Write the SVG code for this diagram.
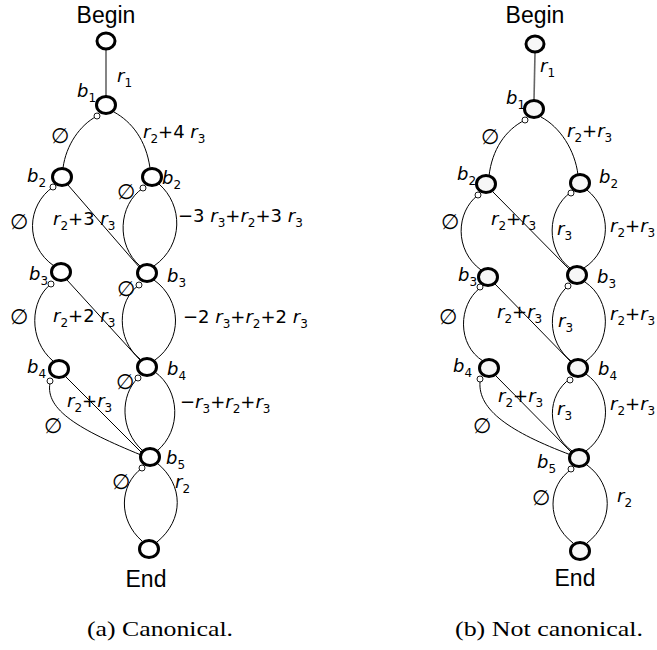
<svg xmlns="http://www.w3.org/2000/svg" width="657" height="650" viewBox="0 0 657 650">
<style>
.bg{fill:#fff}
.node{fill:#fff;stroke:#000;stroke-width:3}
.nodeR{fill:#f7f7f7;stroke:#000;stroke-width:3}
.port{fill:#fff;stroke:#000;stroke-width:0.9}
.e{fill:none;stroke:#000;stroke-width:1}
.eg{fill:none;stroke:#666;stroke-width:1.6}
.lbl{font-family:"DejaVu Sans",sans-serif;font-size:18px;fill:#000}
.i{font-style:italic}
.s{font-size:12px}
.es{font-family:"DejaVu Sans",sans-serif;font-size:21px;font-style:italic;fill:#000}
.term{font-family:"Liberation Sans",Arial,sans-serif;font-size:23px;fill:#000;text-anchor:middle}
.cap{font-family:"Liberation Serif","Times New Roman",serif;font-size:22px;fill:#000}
</style>
<rect class="bg" x="0" y="0" width="657" height="650"/>

<g id="connectors">
  <!-- left diagram -->
  <path class="eg" d="M106,50 L106,96"/>
  <path class="e" d="M97,116 C80,125 66,145 63,168"/>
  <path class="e" d="M114,112 C132,122 146,140 150,168"/>
  <path class="e" d="M53,187 C27,205 24,245 54,266"/>
  <path class="e" d="M68,185 L140,268"/>
  <path class="e" d="M143,188 C118,205 116,245 140,266"/>
  <path class="e" d="M159,184 C183,205 184,245 154,266"/>
  <path class="e" d="M51,284 C30,300 28,340 53,361"/>
  <path class="e" d="M67,280 L140,360"/>
  <path class="e" d="M139,285 C117,300 116,340 140,359"/>
  <path class="e" d="M154,280 C182,300 183,340 155,360"/>
  <path class="e" d="M66,377 L141,452"/>
  <path class="e" d="M50,383 C45,410 80,430 141,455"/>
  <path class="e" d="M138,378 C120,395 120,430 142,450"/>
  <path class="e" d="M155,372 C180,390 182,430 157,451"/>
  <path class="e" d="M142,468 C119,485 118,520 142,541"/>
  <path class="e" d="M157,463 C184,485 184,520 157,542"/>

  <!-- right diagram -->
  <path class="eg" d="M535,53 L534,100"/>
  <path class="e" d="M525,120 C505,130 492,150 489,176"/>
  <path class="e" d="M541,117 C560,127 575,150 578,175"/>
  <path class="e" d="M478,195 C456,212 454,250 481,270"/>
  <path class="e" d="M493,192 L570,270"/>
  <path class="e" d="M571,192 C546,210 546,250 570,268"/>
  <path class="e" d="M587,190 C612,210 612,250 584,268"/>
  <path class="e" d="M480,288 C458,305 457,345 483,361"/>
  <path class="e" d="M495,284 L571,362"/>
  <path class="e" d="M569,285 C546,305 547,342 571,361"/>
  <path class="e" d="M585,282 C612,300 612,342 586,361"/>
  <path class="e" d="M496,376 L571,452"/>
  <path class="e" d="M480,382 C478,410 510,432 571,455"/>
  <path class="e" d="M571,378 C546,395 546,432 572,451"/>
  <path class="e" d="M586,374 C612,392 612,432 586,451"/>
  <path class="e" d="M572,469 C547,485 546,522 573,543"/>
  <path class="e" d="M587,465 C614,485 614,522 587,543"/>

  <!-- left edge labels -->
  <text class="lbl" x="117" y="82"><tspan class="i">r</tspan><tspan class="s" dy="5">1</tspan></text>
  <text class="es" x="51" y="143">∅</text>
  <text class="lbl" x="143" y="138"><tspan class="i">r</tspan><tspan class="s" dy="5">2</tspan><tspan dy="-5">+4 </tspan><tspan class="i">r</tspan><tspan class="s" dy="5">3</tspan></text>
  <text class="es" x="10" y="229">∅</text>
  <text class="lbl" x="53" y="225"><tspan class="i">r</tspan><tspan class="s" dy="5">2</tspan><tspan dy="-5">+3 </tspan><tspan class="i">r</tspan><tspan class="s" dy="5">3</tspan></text>
  <text class="es" x="117" y="199">∅</text>
  <text class="lbl" x="178" y="222">−3 <tspan class="i">r</tspan><tspan class="s" dy="5">3</tspan><tspan dy="-5">+</tspan><tspan class="i">r</tspan><tspan class="s" dy="5">2</tspan><tspan dy="-5">+3 </tspan><tspan class="i">r</tspan><tspan class="s" dy="5">3</tspan></text>
  <text class="es" x="10" y="324">∅</text>
  <text class="lbl" x="53" y="322"><tspan class="i">r</tspan><tspan class="s" dy="5">2</tspan><tspan dy="-5">+2 </tspan><tspan class="i">r</tspan><tspan class="s" dy="5">3</tspan></text>
  <text class="es" x="117" y="296">∅</text>
  <text class="lbl" x="183" y="323">−2 <tspan class="i">r</tspan><tspan class="s" dy="5">3</tspan><tspan dy="-5">+</tspan><tspan class="i">r</tspan><tspan class="s" dy="5">2</tspan><tspan dy="-5">+2 </tspan><tspan class="i">r</tspan><tspan class="s" dy="5">3</tspan></text>
  <text class="lbl" x="67" y="407"><tspan class="i">r</tspan><tspan class="s" dy="5">2</tspan><tspan dy="-5">+</tspan><tspan class="i">r</tspan><tspan class="s" dy="5">3</tspan></text>
  <text class="es" x="44" y="433">∅</text>
  <text class="es" x="116" y="389">∅</text>
  <text class="lbl" x="180" y="408">−<tspan class="i">r</tspan><tspan class="s" dy="5">3</tspan><tspan dy="-5">+</tspan><tspan class="i">r</tspan><tspan class="s" dy="5">2</tspan><tspan dy="-5">+</tspan><tspan class="i">r</tspan><tspan class="s" dy="5">3</tspan></text>
  <text class="es" x="112" y="489">∅</text>
  <text class="lbl" x="175" y="488"><tspan class="i">r</tspan><tspan class="s" dy="5">2</tspan></text>

  <!-- right edge labels -->
  <text class="lbl" x="540" y="72"><tspan class="i">r</tspan><tspan class="s" dy="5">1</tspan></text>
  <text class="es" x="481" y="144">∅</text>
  <text class="lbl" x="567" y="137"><tspan class="i">r</tspan><tspan class="s" dy="5">2</tspan><tspan dy="-5">+</tspan><tspan class="i">r</tspan><tspan class="s" dy="5">3</tspan></text>
  <text class="es" x="441" y="229">∅</text>
  <text class="lbl" x="491" y="225"><tspan class="i">r</tspan><tspan class="s" dy="5">2</tspan><tspan dy="-5">+</tspan><tspan class="i">r</tspan><tspan class="s" dy="5">3</tspan></text>
  <text class="lbl" x="557" y="235"><tspan class="i">r</tspan><tspan class="s" dy="5">3</tspan></text>
  <text class="lbl" x="610" y="232"><tspan class="i">r</tspan><tspan class="s" dy="5">2</tspan><tspan dy="-5">+</tspan><tspan class="i">r</tspan><tspan class="s" dy="5">3</tspan></text>
  <text class="es" x="439" y="324">∅</text>
  <text class="lbl" x="497" y="318"><tspan class="i">r</tspan><tspan class="s" dy="5">2</tspan><tspan dy="-5">+</tspan><tspan class="i">r</tspan><tspan class="s" dy="5">3</tspan></text>
  <text class="lbl" x="558" y="327"><tspan class="i">r</tspan><tspan class="s" dy="5">3</tspan></text>
  <text class="lbl" x="610" y="320"><tspan class="i">r</tspan><tspan class="s" dy="5">2</tspan><tspan dy="-5">+</tspan><tspan class="i">r</tspan><tspan class="s" dy="5">3</tspan></text>
  <text class="lbl" x="498" y="402"><tspan class="i">r</tspan><tspan class="s" dy="5">2</tspan><tspan dy="-5">+</tspan><tspan class="i">r</tspan><tspan class="s" dy="5">3</tspan></text>
  <text class="es" x="473" y="433">∅</text>
  <text class="lbl" x="557" y="415"><tspan class="i">r</tspan><tspan class="s" dy="5">3</tspan></text>
  <text class="lbl" x="610" y="410"><tspan class="i">r</tspan><tspan class="s" dy="5">2</tspan><tspan dy="-5">+</tspan><tspan class="i">r</tspan><tspan class="s" dy="5">3</tspan></text>
  <text class="es" x="532" y="505">∅</text>
  <text class="lbl" x="617" y="502"><tspan class="i">r</tspan><tspan class="s" dy="5">2</tspan></text>
</g>

<!-- left diagram nodes -->
<g id="L-begin">
  <text class="term" x="106" y="23">Begin</text>
  <ellipse class="node" cx="106" cy="41" rx="9" ry="8"/>
</g>
<g id="L-b1">
  <ellipse class="node" cx="106" cy="105" rx="9.5" ry="8.5"/>
  <circle class="port" cx="97" cy="116" r="3"/>
  <text class="lbl" x="77" y="97"><tspan class="i">b</tspan><tspan class="s" dy="5">1</tspan></text>
</g>
<g id="L-b2a">
  <ellipse class="node" cx="62" cy="177" rx="9.5" ry="8.5"/>
  <circle class="port" cx="53" cy="187" r="3"/>
  <text class="lbl" x="27" y="182"><tspan class="i">b</tspan><tspan class="s" dy="5">2</tspan></text>
</g>
<g id="L-b2b">
  <ellipse class="node" cx="152" cy="177" rx="9.5" ry="8.5"/>
  <circle class="port" cx="143" cy="188" r="3"/>
  <text class="lbl" x="162" y="184"><tspan class="i">b</tspan><tspan class="s" dy="5">2</tspan></text>
</g>
<g id="L-b3a">
  <ellipse class="node" cx="61" cy="272" rx="9.5" ry="8.5"/>
  <circle class="port" cx="51" cy="284" r="3"/>
  <text class="lbl" x="29" y="280"><tspan class="i">b</tspan><tspan class="s" dy="5">3</tspan></text>
</g>
<g id="L-b3b">
  <ellipse class="node" cx="147" cy="273" rx="9.5" ry="8.5"/>
  <circle class="port" cx="139" cy="285" r="3"/>
  <text class="lbl" x="167" y="282"><tspan class="i">b</tspan><tspan class="s" dy="5">3</tspan></text>
</g>
<g id="L-b4a">
  <ellipse class="node" cx="59" cy="369" rx="9.5" ry="8.5"/>
  <circle class="port" cx="50" cy="381" r="3"/>
  <text class="lbl" x="27" y="373"><tspan class="i">b</tspan><tspan class="s" dy="5">4</tspan></text>
</g>
<g id="L-b4b">
  <ellipse class="node" cx="147" cy="367" rx="9.5" ry="8.5"/>
  <circle class="port" cx="138" cy="378" r="3"/>
  <text class="lbl" x="167" y="375"><tspan class="i">b</tspan><tspan class="s" dy="5">4</tspan></text>
</g>
<g id="L-b5">
  <ellipse class="node" cx="150" cy="457" rx="9.5" ry="8.5"/>
  <circle class="port" cx="142" cy="468" r="3"/>
  <text class="lbl" x="166" y="464"><tspan class="i">b</tspan><tspan class="s" dy="5">5</tspan></text>
</g>
<g id="L-end">
  <ellipse class="node" cx="149" cy="549" rx="9.5" ry="8.5"/>
  <text class="term" x="146" y="587">End</text>
</g>

<!-- right diagram nodes -->
<g id="R-begin">
  <text class="term" x="535" y="23">Begin</text>
  <ellipse class="nodeR" cx="535" cy="44" rx="9" ry="8"/>
</g>
<g id="R-b1">
  <ellipse class="nodeR" cx="534" cy="109" rx="9.5" ry="8.5"/>
  <circle class="port" cx="525" cy="120" r="3"/>
  <text class="lbl" x="506" y="104"><tspan class="i">b</tspan><tspan class="s" dy="5">1</tspan></text>
</g>
<g id="R-b2a">
  <ellipse class="nodeR" cx="486" cy="184" rx="9.5" ry="8.5"/>
  <circle class="port" cx="478" cy="195" r="3"/>
  <text class="lbl" x="457" y="180"><tspan class="i">b</tspan><tspan class="s" dy="5">2</tspan></text>
</g>
<g id="R-b2b">
  <ellipse class="nodeR" cx="580" cy="183" rx="9.5" ry="8.5"/>
  <circle class="port" cx="571" cy="193" r="3"/>
  <text class="lbl" x="599" y="183"><tspan class="i">b</tspan><tspan class="s" dy="5">2</tspan></text>
</g>
<g id="R-b3a">
  <ellipse class="nodeR" cx="488" cy="277" rx="9.5" ry="8.5"/>
  <circle class="port" cx="480" cy="287" r="3"/>
  <text class="lbl" x="458" y="281"><tspan class="i">b</tspan><tspan class="s" dy="5">3</tspan></text>
</g>
<g id="R-b3b">
  <ellipse class="nodeR" cx="577" cy="275" rx="9.5" ry="8.5"/>
  <circle class="port" cx="568" cy="286" r="3"/>
  <text class="lbl" x="597" y="283"><tspan class="i">b</tspan><tspan class="s" dy="5">3</tspan></text>
</g>
<g id="R-b4a">
  <ellipse class="nodeR" cx="489" cy="368" rx="9.5" ry="8.5"/>
  <circle class="port" cx="480" cy="379" r="3"/>
  <text class="lbl" x="453" y="372"><tspan class="i">b</tspan><tspan class="s" dy="5">4</tspan></text>
</g>
<g id="R-b4b">
  <ellipse class="nodeR" cx="578" cy="368" rx="9.5" ry="8.5"/>
  <circle class="port" cx="570" cy="380" r="3"/>
  <text class="lbl" x="598" y="375"><tspan class="i">b</tspan><tspan class="s" dy="5">4</tspan></text>
</g>
<g id="R-b5">
  <ellipse class="nodeR" cx="579" cy="458" rx="9.5" ry="8.5"/>
  <circle class="port" cx="571" cy="469" r="3"/>
  <text class="lbl" x="537" y="468"><tspan class="i">b</tspan><tspan class="s" dy="5">5</tspan></text>
</g>
<g id="R-end">
  <ellipse class="nodeR" cx="580" cy="551" rx="9.5" ry="8.5"/>
  <text class="term" x="575" y="586">End</text>
</g>

<text class="cap" x="87" y="636" textLength="146" lengthAdjust="spacingAndGlyphs">(a) Canonical.</text>
<text class="cap" x="455" y="636" textLength="188" lengthAdjust="spacingAndGlyphs">(b) Not canonical.</text>
</svg>
